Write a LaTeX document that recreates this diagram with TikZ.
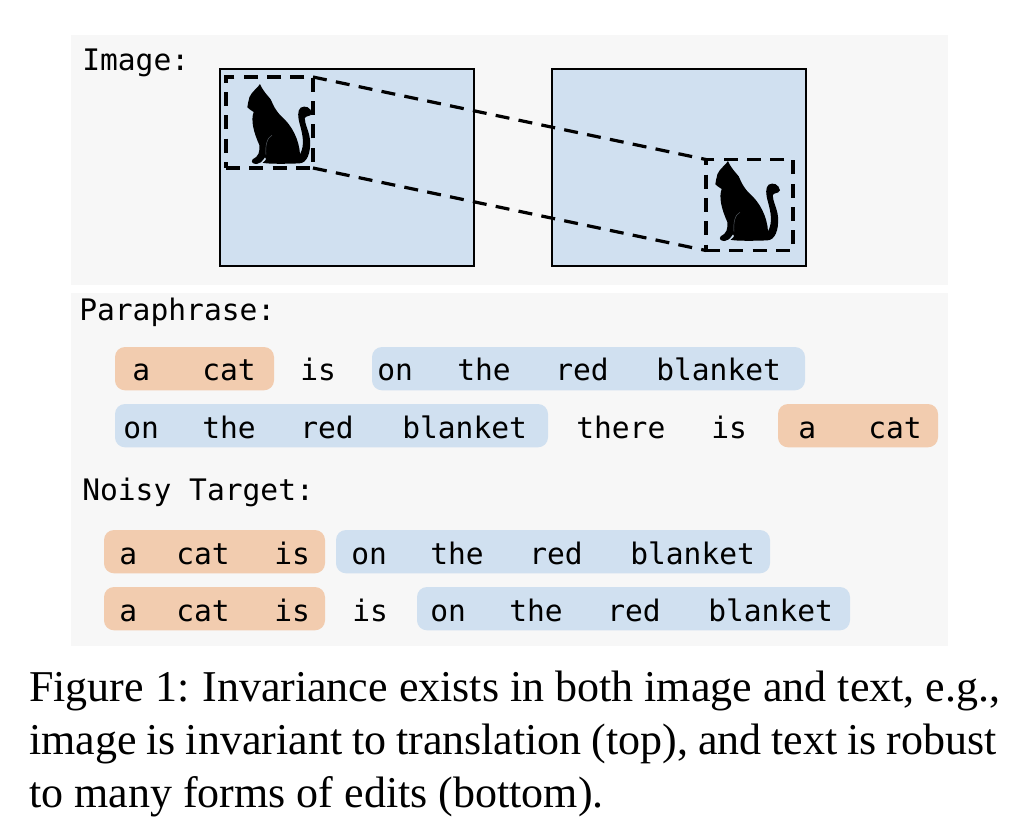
\documentclass[tikz,border=0pt]{standalone}
\usepackage{fontspec}
\setmainfont{Liberation Serif}
\newfontfamily\monofont{DejaVu Sans Mono}
\definecolor{panelgray}{HTML}{F7F7F7}
\definecolor{chipblue}{HTML}{D0E0F0}
\definecolor{chiporange}{HTML}{F2CCAF}
\tikzset{panel/.style = {fill = panelgray, draw = none, anchor = north west, inner sep = 0pt, outer sep = 0pt},
         imagebox/.style = {fill = chipblue, draw = black, line width = 1.5pt, anchor = north west, outer sep = 0pt,
                            inner sep = 0pt, minimum width = 190.5pt, minimum height = 147.75pt},
         cropbox/.style = {draw = black, dash pattern = on 10.5pt off 7pt, line width = 2.7pt, anchor = center,
                           outer sep = 0pt, inner sep = 0pt, minimum width = 65.25pt, minimum height = 68.25pt},
         cropline/.style = {draw = black, dash pattern = on 10.5pt off 7pt, line width = 2.4pt},
         chip/.style = {rounded corners = 7.5pt, anchor = north west, inner sep = 0pt, outer sep = 0pt, minimum height = 32.5pt},
         blue chip/.style = {chip, fill = chipblue},
         orange chip/.style = {chip, fill = chiporange},
         word/.style = {anchor = base west, inner sep = 0pt, xshift = -0.75pt, font = \monofont\fontsize{22.2}{26}\selectfont},
         pics/catshape/.style = {code = {
           \begin{scope}[x=0.25pt, y=-0.25pt]
           \fill[black] (150,72) .. controls (143,84) and (125,95) .. (118,112)
             .. controls (116,125) and (112,132) .. (112,142)
             .. controls (118,150) and (125,150) .. (131,156)
             .. controls (122,180) and (130,215) .. (148,255)
             .. controls (150,275) and (146,290) .. (128,298)
             .. controls (122,306) and (128,312) .. (140,312)
             .. controls (150,312) and (155,305) .. (165,292)
             .. controls (172,298) and (165,302) .. (158,308)
             .. controls (165,312) and (230,312) .. (268,310)
             .. controls (290,310) and (303,280) .. (300,240)
             .. controls (298,215) and (285,195) .. (284,175)
             .. controls (288,165) and (300,172) .. (306,160)
             .. controls (303,142) and (285,135) .. (272,143)
             .. controls (262,152) and (263,170) .. (270,195)
             .. controls (278,225) and (285,255) .. (270,283)
             .. controls (268,240) and (245,195) .. (215,170)
             .. controls (195,150) and (190,135) .. (182,118)
             .. controls (172,105) and (160,95) .. (150,72) -- cycle;
           \draw[black!55!chipblue, line width = 0.3pt] (186,226) .. controls (172,232) and (165,255) .. (168,285);
           \end{scope}
         }}
        }

\begin{document}
\begin{tikzpicture}[x=0.75pt, y=-0.75pt]
  \useasboundingbox (0,0) rectangle (1034,826);

  % panels
  \node[panel, minimum width = 657.75pt, minimum height = 187.5pt] (imagepanel) at (71,35) {};
  \node[panel, minimum width = 657.75pt, minimum height = 264.75pt] (textpanel) at (71,293) {};

  % image part
  \node[imagebox] (leftimage) at (220,69) {};
  \node[imagebox] (rightimage) at (552,69) {};
  \node[cropbox] (leftcrop) at (269.5,122.5) {};
  \node[cropbox] (rightcrop) at (749.5,205) {};
  \draw[cropline] (leftcrop.north east) -- (rightcrop.north west);
  \draw[cropline] (leftcrop.south east) -- (rightcrop.south west);
  \pic (leftcat) at (210,60) {catshape};
  \pic (rightcat) at (678,137) {catshape};

  % headings
  \node[word] (imagelabel) at (83,70) {Image:};
  \node[word] (paralabel) at (80,320) {Paraphrase:};
  \node[word] (noisylabel) at (83,500) {Noisy Target:};

  % chips
  \node[orange chip, minimum width = 119.25pt] (chipa) at (115,347) {};
  \node[blue chip, minimum width = 324.75pt] (chipb) at (372,347) {};
  \node[blue chip, minimum width = 324.75pt] (chipc) at (115,404) {};
  \node[orange chip, minimum width = 120pt] (chipd) at (778,404) {};
  \node[orange chip, minimum width = 165.75pt] (chipe) at (104,530) {};
  \node[blue chip, minimum width = 325.5pt] (chipf) at (336,530) {};
  \node[orange chip, minimum width = 165.75pt] (chipg) at (104,587) {};
  \node[blue chip, minimum width = 324.75pt] (chiph) at (417,587) {};

  % words
  \foreach \n/\x/\w in {1/133/a, 2/203/cat, 3/301/is, 4/378/on, 5/458/the, 6/556/red, 7/657/blanket}
    \node[word] (rowa\n) at (\x,380) {\w};
  \foreach \n/\x/\w in {1/124/on, 2/203/the, 3/301/red, 4/403/blanket, 5/577/there, 6/712/is, 7/799/a, 8/869/cat}
    \node[word] (rowb\n) at (\x,438) {\w};
  \foreach \n/\x/\w in {1/120/a, 2/177/cat, 3/275/is, 4/352/on, 5/431/the, 6/530/red, 7/631/blanket}
    \node[word] (rowc\n) at (\x,564) {\w};
  \foreach \n/\x/\w in {1/120/a, 2/177/cat, 3/275/is, 4/353/is, 5/431/on, 6/510/the, 7/608/red, 8/709/blanket}
    \node[word] (rowd\n) at (\x,621) {\w};

  % caption
  \node[anchor = base west, inner sep = 0pt, align = left,
        font = \frenchspacing\fontsize{33}{39.75}\selectfont] (caption) at (29,807)
    {Figure 1:\hspace{1.5pt} Invariance exists in both image and text, e.g.,\\
     {\spaceskip=7.4pt image is invariant to translation (top), and text is robust}\\
     to many forms of edits (bottom).};
\end{tikzpicture}
\end{document}
